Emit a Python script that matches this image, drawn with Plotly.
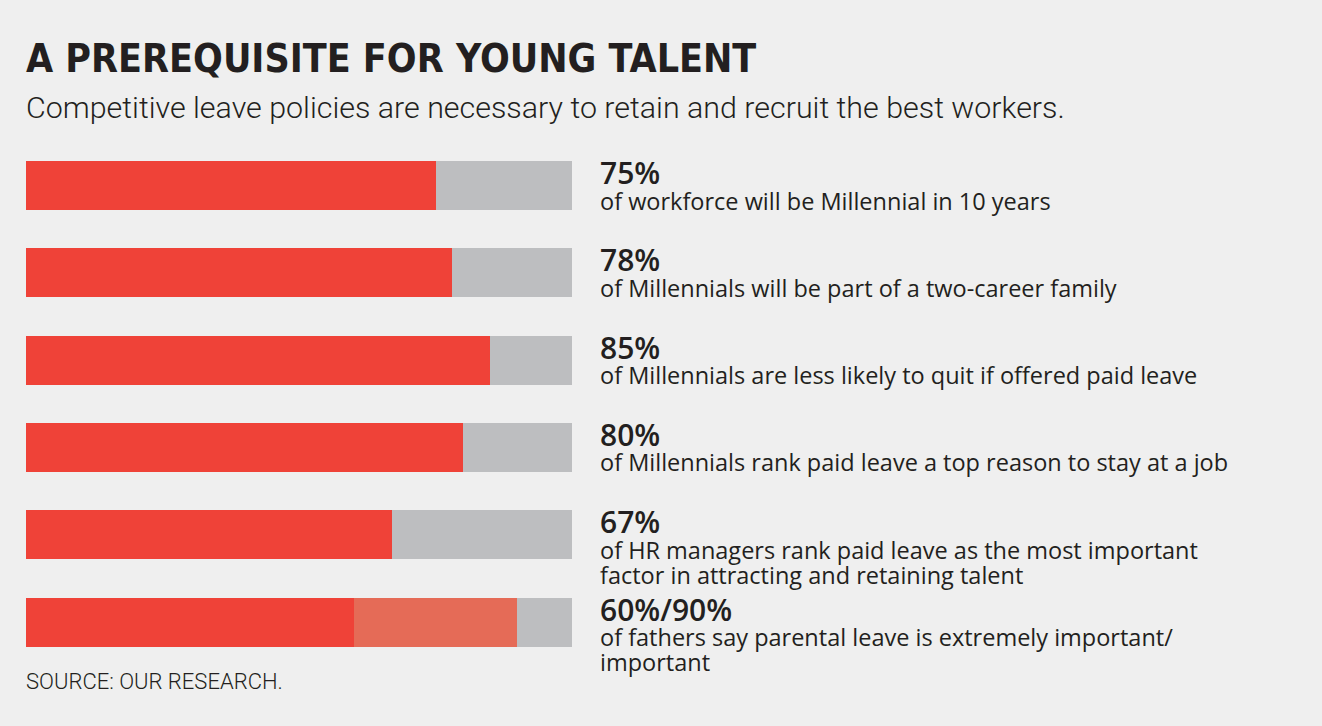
import plotly.graph_objects as go

# ---- data ----
rows = [0, 1, 2, 3, 4, 5]
primary_pct = [75, 78, 85, 80, 67, 60]
secondary_pct = [0, 0, 0, 0, 0, 90]   # 0 = no secondary segment
pct_labels = ["75%", "78%", "85%", "80%", "67%", "60%/90%"]
desc_lines = [
    ["of workforce will be Millennial in 10 years"],
    ["of Millennials will be part of a two-career family"],
    ["of Millennials are less likely to quit if offered paid leave"],
    ["of Millennials rank paid leave a top reason to stay at a job"],
    ["of HR managers rank paid leave as the most important",
     "factor in attracting and retaining talent"],
    ["of fathers say parental leave is extremely important/",
     "important"],
]
title = "A PREREQUISITE FOR YOUNG TALENT"
subtitle = "Competitive leave policies are necessary to retain and recruit the best workers."
source = "SOURCE: OUR RESEARCH."

RED = "#EF4238"
SALMON = "#E56B57"
GRAY = "#BDBEC0"
BG = "#EFEFEF"
TXT = "#231F20"

W, H = 1322, 726
row_px0, row_step = 185.5, 87.3

second_seg = [max(s - p, 0) for p, s in zip(primary_pct, secondary_pct)]
rest = [100 - max(p, s) for p, s in zip(primary_pct, secondary_pct)]

fig = go.Figure()
bw = 49 / row_step
fig.add_trace(go.Bar(y=rows, x=primary_pct, orientation="h", marker=dict(color=RED, line=dict(width=0)),
                     width=bw, hoverinfo="skip"))
fig.add_trace(go.Bar(y=rows, x=second_seg, orientation="h", marker=dict(color=SALMON, line=dict(width=0)),
                     width=bw, hoverinfo="skip"))
fig.add_trace(go.Bar(y=rows, x=rest, orientation="h", marker=dict(color=GRAY, line=dict(width=0)),
                     width=bw, hoverinfo="skip"))

ytop = -row_px0 / row_step
ybot = (H - row_px0) / row_step

ann = []
lab_x = 598 / W
for r, lab, lines in zip(rows, pct_labels, desc_lines):
    ann.append(dict(x=lab_x, xref="paper", y=r, yref="y", text=lab, showarrow=False,
                    xanchor="left", yanchor="middle", yshift=13,
                    font=dict(family="Open Sans", size=30, color=TXT, weight=600)))
    for k, ln in enumerate(lines):
        ann.append(dict(x=lab_x, xref="paper", y=r, yref="y", text=ln, showarrow=False,
                        xanchor="left", yanchor="middle", yshift=-15 - 25 * k,
                        font=dict(family="Open Sans", size=23.5, color=TXT)))

ann.append(dict(x=24 / W, xref="paper", y=1 - 58 / H, yref="paper", text=title, showarrow=False,
                xanchor="left", yanchor="middle",
                font=dict(family="DejaVu Sans Condensed, Liberation Sans Narrow, Arial Narrow, sans-serif",
                          size=39, color=TXT, weight="bold")))
ann.append(dict(x=24 / W, xref="paper", y=1 - 107 / H, yref="paper", text=subtitle, showarrow=False,
                xanchor="left", yanchor="middle",
                font=dict(family="Roboto", size=30.4, color=TXT, weight=300)))
ann.append(dict(x=24 / W, xref="paper", y=1 - 681 / H, yref="paper", text=source, showarrow=False,
                xanchor="left", yanchor="middle",
                font=dict(family="Roboto", size=22, color=TXT, weight=300)))

fig.update_layout(
    width=W, height=H, barmode="stack", showlegend=False, bargap=0,
    paper_bgcolor=BG, plot_bgcolor=BG,
    margin=dict(l=0, r=0, t=0, b=0),
    xaxis=dict(domain=[26 / W, 572 / W], range=[0, 100], visible=False, fixedrange=True),
    yaxis=dict(domain=[0, 1], range=[ybot, ytop], visible=False, fixedrange=True),
    annotations=ann,
)

fig.write_html("out.html", config={"displayModeBar": False},
               post_script="document.body.style.margin='0';document.body.style.overflow='hidden';")
